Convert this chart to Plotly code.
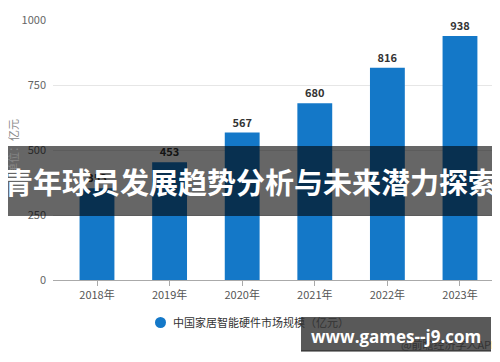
import plotly.graph_objects as go

years = ["2018年", "2019年", "2020年", "2021年", "2022年", "2023年"]
values = [353, 453, 567, 680, 816, 938]
y_ticks = [0, 250, 500, 750, 1000]
series_name = "中国家居智能硬件市场规模（亿元）"
banner_title = "青年球员发展趋势分析与未来潜力探索"
site_text = "www.games--j9.com"
source_text = "@前瞻经济学人APP"
unit_text = "单位：亿元"

BLUE = "#1478c8"
FONT = "Noto Sans CJK SC, Noto Sans, sans-serif"

# The page body has an 8px default margin; work in window pixels.
OFF = 8
W, H = 500 - OFF, 362 - OFF
PL, PR, PT, PB = 53, 496, 20, 280   # plot area in window pixels
L, T = PL - OFF, PT - OFF
R = W - (PR - OFF)
B = H - (PB - OFF)
pw, ph = PR - PL, PB - PT

def px(x):
    return (x - PL) / pw

def py(y):
    return (PB - y) / ph

def note(text, x, y, size, color, xanchor="center", **kw):
    return dict(text=text, xref="paper", yref="paper", x=px(x), y=py(y),
                xanchor=xanchor, yanchor="middle", showarrow=False,
                font=dict(size=size, color=color, **kw.pop("font", {})), **kw)

fig = go.Figure()
fig.add_trace(go.Bar(
    x=list(range(len(years))), y=values, name=series_name,
    marker=dict(color=BLUE, line=dict(width=0)),
    text=[str(v) for v in values], textposition="outside",
    textfont=dict(size=11, color="#333333", family=FONT, weight="bold"),
    cliponaxis=False, width=0.48, showlegend=False,
))

fig.update_layout(
    width=W, height=H,
    margin=dict(l=L, r=R, t=T, b=B, autoexpand=False),
    paper_bgcolor="white", plot_bgcolor="white",
    font=dict(family=FONT, size=11, color="#666666"),
    xaxis=dict(
        range=[-0.606, 5.496], tickmode="array",
        tickvals=list(range(len(years))), ticktext=years,
        showgrid=False, showline=True, linecolor="#aaaaaa", linewidth=1,
        ticks="outside", ticklen=5, tickcolor="#aaaaaa",
        tickfont=dict(size=11, color="#555555"), zeroline=False, fixedrange=True,
    ),
    yaxis=dict(
        range=[0, 1000], tickvals=y_ticks, showgrid=True, gridcolor="#e6e6e6",
        gridwidth=1, zeroline=False, showline=False, ticks="",
        tickfont=dict(size=11, color="#666666"), ticklabelstandoff=6,
    ),
    showlegend=False,
    bargap=0.52,
    shapes=[
        dict(type="circle", xref="paper", yref="paper", layer="above",
             x0=px(155), x1=px(166), y0=py(328), y1=py(317),
             fillcolor=BLUE, line=dict(width=0)),
        dict(type="rect", xref="paper", yref="paper", layer="above",
             x0=px(3), x1=px(497), y0=py(216), y1=py(146),
             fillcolor="rgba(0,0,0,0.6)", line=dict(width=0)),
        dict(type="rect", xref="paper", yref="paper", layer="above",
             x0=px(301), x1=px(491), y0=py(351), y1=py(317),
             fillcolor="rgba(60,60,60,0.85)", line=dict(width=0)),
        dict(type="line", xref="paper", yref="paper", layer="above",
             x0=px(301), x1=px(491), y0=py(351), y1=py(351),
             line=dict(color="#222222", width=1)),
    ],
    annotations=[
        note(series_name, 171, 322, 11, "#333333", xanchor="left"),
        note(unit_text, 13, 147, 11, "#888888", textangle=-90),
        note(source_text, 449, 344, 11, "#333333"),
        note(banner_title, 250, 181, 29, "white",
             font=dict(family=FONT, weight="bold")),
        note(site_text, 396, 336, 17, "white",
             font=dict(family="Open Sans, sans-serif", weight="bold")),
    ],
)

fig.write_html("out.html")
